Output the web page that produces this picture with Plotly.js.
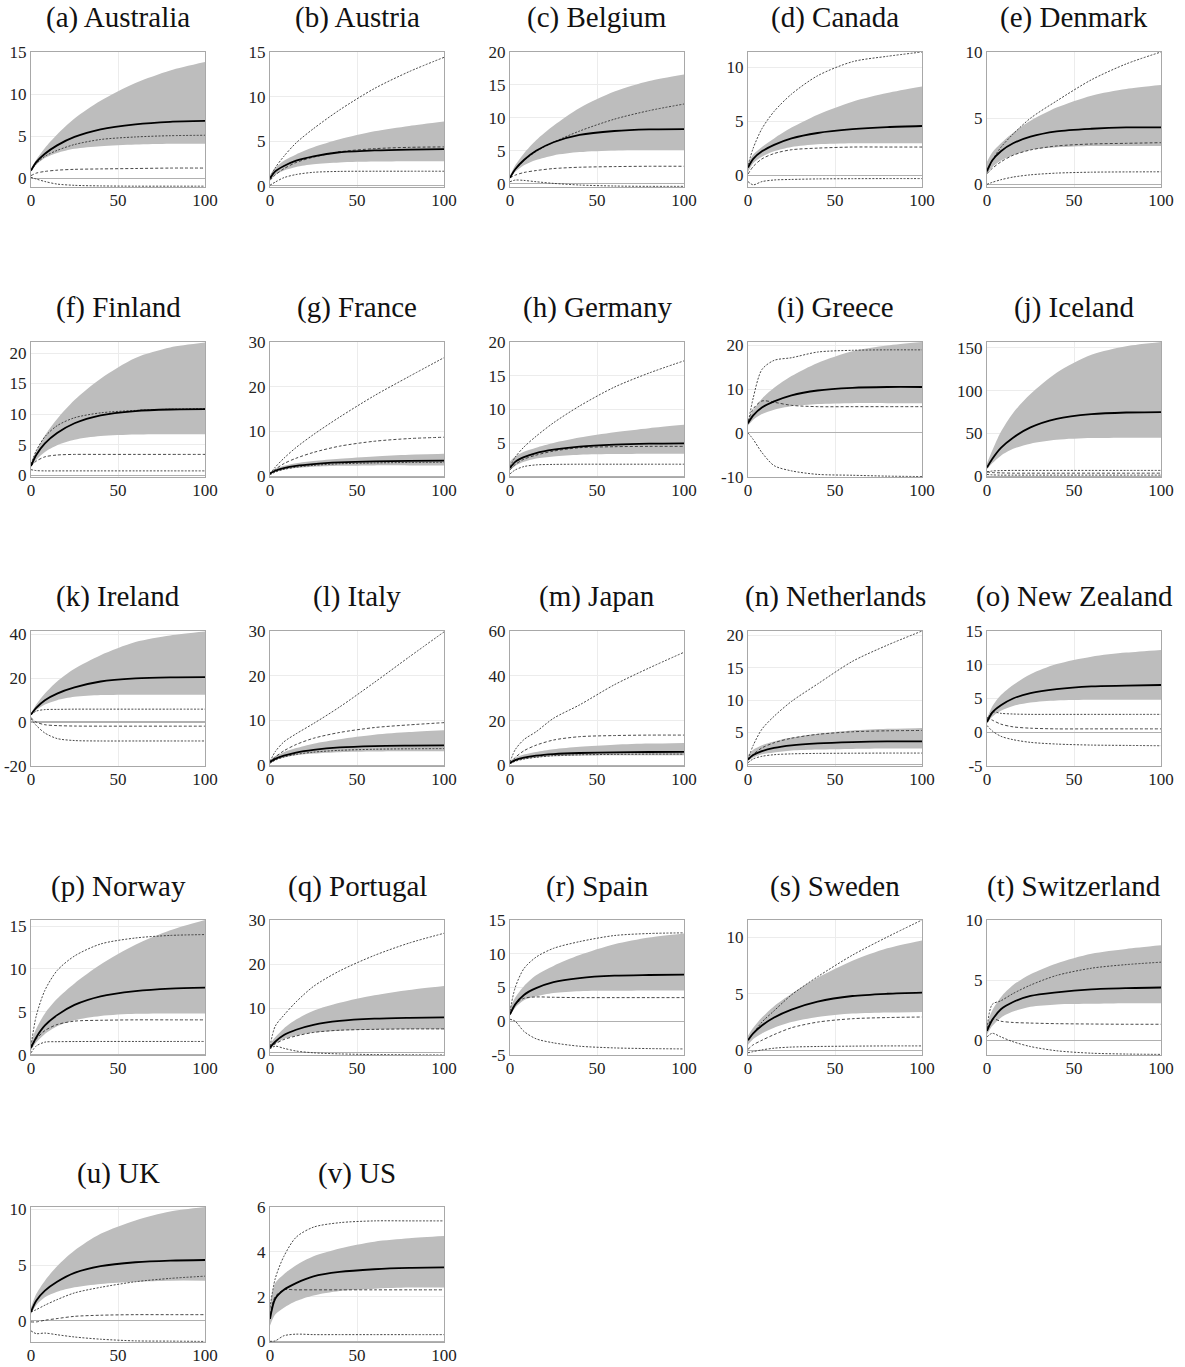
<!DOCTYPE html>
<html>
<head>
<meta charset="utf-8">
<script src="https://cdn.plot.ly/plotly-3.0.1.min.js"></script>
<style>html,body{margin:0;padding:0;background:#fff;}#chart{width:1185px;height:1367px;}</style>
</head>
<body>
<div id="chart"></div>
<script>
// Horizon (x) sample points
const X = [0, 3, 8, 15, 25, 40, 60, 80, 100];

const titles = ["(a) Australia","(b) Austria","(c) Belgium","(d) Canada","(e) Denmark",
  "(f) Finland","(g) France","(h) Germany","(i) Greece","(j) Iceland",
  "(k) Ireland","(l) Italy","(m) Japan","(n) Netherlands","(o) New Zealand",
  "(p) Norway","(q) Portugal","(r) Spain","(s) Sweden","(t) Switzerland",
  "(u) UK","(v) US"];

// y-axis ranges and tick steps per panel
const yMin = [-1.05,-0.15,-0.5,-1.1,-0.2, -0.3,-0.2,-0.05,-10.1,-1, -20,-0.2,-0.3,-0.2,-5, -0.05,-0.5,-5,-0.4,-1.2, -1.9,-0.03];
const yMax = [15,15,20,11.4,10, 21.8,30,20,20.8,157, 41.5,30,60,20.7,15, 15.7,30,15,11.5,10, 10.2,6];
const yStep = [5,5,5,5,5, 5,10,5,10,50, 20,10,20,5,5, 5,10,5,5,5, 5,2];

// shaded band lower edge
const bandLow = [
 [0.8,1.6,2.4,3.0,3.5,3.8,4.0,4.1,4.1],
 [0.6,1.2,1.7,2.1,2.4,2.6,2.7,2.75,2.75],
 [0.8,1.8,2.8,3.6,4.3,4.8,5.05,5.1,5.1],
 [0.3,1.1,1.7,2.2,2.6,2.85,2.95,2.95,2.95],
 [0.8,1.3,1.8,2.2,2.6,2.8,2.9,2.9,2.9],
 [1.3,2.5,3.8,4.9,5.8,6.4,6.65,6.7,6.7],
 [0.4,0.9,1.4,1.8,2.1,2.3,2.4,2.4,2.4],
 [1.0,1.6,2.2,2.7,3.0,3.25,3.35,3.4,3.4],
 [1.7,3.0,4.3,5.3,6.1,6.6,6.8,6.8,6.8],
 [8,15,24,32,38,42.5,44.5,45,45],
 [3.2,5.5,8.0,10.0,11.5,12.3,12.5,12.5,12.5],
 [0.5,1.1,1.7,2.2,2.6,2.9,3.05,3.1,3.1],
 [0.8,1.8,2.7,3.4,4.0,4.3,4.45,4.5,4.5],
 [0.6,1.1,1.6,1.9,2.2,2.35,2.45,2.5,2.5],
 [1.3,2.3,3.2,3.9,4.4,4.7,4.8,4.8,4.8],
 [0.5,1.4,2.4,3.3,4.0,4.5,4.75,4.8,4.8],
 [0.9,2.0,3.1,3.9,4.6,5.0,5.2,5.3,5.3],
 [0.8,2.0,3.1,3.7,4.2,4.45,4.5,4.55,4.55],
 [0.5,1.0,1.5,2.0,2.5,2.95,3.25,3.35,3.4],
 [0.5,1.2,1.9,2.4,2.8,3.0,3.05,3.1,3.1],
 [0.6,1.4,2.1,2.6,3.0,3.3,3.5,3.6,3.6],
 [0.7,1.2,1.5,1.8,2.05,2.25,2.35,2.4,2.4]
];

// shaded band upper edge
const bandHigh = [
 [1.0,2.2,3.6,5.2,7.1,9.2,11.3,12.8,13.8],
 [1.2,2.0,2.8,3.5,4.3,5.2,6.1,6.7,7.2],
 [1.2,2.8,4.6,6.6,8.8,11.5,14.0,15.6,16.6],
 [1.1,1.9,2.6,3.4,4.4,5.6,6.8,7.6,8.2],
 [1.7,2.4,3.1,3.9,4.8,5.8,6.7,7.2,7.5],
 [2.0,4.0,6.5,9.2,12.3,15.8,19.2,20.9,21.7],
 [0.9,1.6,2.3,2.9,3.4,3.9,4.4,4.8,5.0],
 [2.3,3.0,3.7,4.3,5.0,5.8,6.6,7.2,7.7],
 [3.0,5.2,7.8,10.3,13.0,16.0,18.7,20.0,20.8],
 [15,30,52,74,96,121,142,152,157],
 [4.0,8.0,13.0,18.5,24.3,30.5,36.5,39.5,41.3],
 [1.2,2.0,2.9,3.8,4.8,5.8,6.8,7.4,7.8],
 [2.0,3.3,4.8,6.0,7.2,8.3,9.2,9.7,10.0],
 [1.5,2.3,3.0,3.6,4.2,4.8,5.3,5.55,5.7],
 [2.0,3.8,5.5,7.0,8.6,10.1,11.2,11.8,12.2],
 [1.5,3.0,4.8,6.5,8.3,10.5,12.8,14.5,15.7],
 [2.0,3.5,5.5,7.5,9.5,11.3,13.0,14.2,15.1],
 [2.0,3.5,5.2,6.8,8.2,9.8,11.4,12.4,13.0],
 [1.3,2.0,2.9,3.9,5.0,6.4,7.9,9.0,9.7],
 [1.4,2.5,3.6,4.6,5.5,6.4,7.2,7.6,7.9],
 [1.2,2.4,3.6,4.9,6.3,7.8,9.0,9.8,10.2],
 [1.6,2.6,3.0,3.4,3.8,4.15,4.45,4.6,4.7]
];

// median (solid black)
const median = [
 [0.9,1.9,2.9,3.9,4.9,5.8,6.4,6.7,6.8],
 [0.8,1.6,2.2,2.8,3.3,3.75,3.95,4.05,4.1],
 [0.9,2.2,3.6,5.0,6.3,7.4,8.0,8.25,8.3],
 [0.7,1.5,2.2,2.8,3.4,3.9,4.25,4.45,4.55],
 [1.0,1.8,2.5,3.1,3.6,4.0,4.2,4.3,4.3],
 [1.5,3.3,5.2,6.9,8.5,9.8,10.5,10.75,10.8],
 [0.6,1.2,1.8,2.3,2.7,3.05,3.3,3.4,3.45],
 [1.3,2.2,2.9,3.5,4.0,4.45,4.75,4.9,4.95],
 [2.2,4.0,5.8,7.2,8.6,9.7,10.3,10.5,10.5],
 [10,20,33,45,57,67,72.5,74.5,75],
 [3.5,6.5,10.0,13.0,15.8,18.5,19.9,20.4,20.5],
 [0.7,1.4,2.1,2.8,3.4,3.95,4.25,4.35,4.4],
 [1.0,2.3,3.4,4.3,5.0,5.5,5.8,5.95,6.0],
 [0.8,1.5,2.1,2.6,3.0,3.3,3.5,3.6,3.6],
 [1.5,2.9,4.0,5.0,5.8,6.4,6.8,6.9,7.0],
 [0.8,2.0,3.4,4.6,5.8,6.8,7.4,7.7,7.8],
 [1.2,2.5,4.0,5.2,6.3,7.2,7.7,7.9,8.0],
 [1.0,2.5,3.9,4.9,5.8,6.4,6.75,6.85,6.9],
 [0.9,1.5,2.2,2.9,3.6,4.3,4.8,5.0,5.1],
 [0.8,1.7,2.6,3.2,3.7,4.0,4.25,4.35,4.4],
 [0.8,1.8,2.7,3.5,4.3,4.9,5.25,5.4,5.45],
 [1.0,1.9,2.3,2.6,2.9,3.1,3.22,3.28,3.3]
];

// upper dotted line
const dotUpper = [
 [0.9,1.7,2.6,3.3,4.0,4.6,4.9,5.05,5.1],
 [0.9,2.0,3.3,4.8,6.4,8.5,10.9,12.8,14.4],
 [0.9,2.1,3.5,4.9,6.3,8.0,9.8,11.1,12.1],
 [0.9,2.5,4.3,5.9,7.5,9.2,10.5,11.0,11.4],
 [0.9,1.8,2.8,3.8,5.0,6.3,7.9,9.1,10.0],
 [1.8,4.0,6.3,8.1,9.4,10.2,10.6,10.8,10.9],
 [0.5,2.0,4.0,6.4,9.3,13.2,18.0,22.3,26.5],
 [1.5,2.9,4.4,6.0,8.0,10.5,13.3,15.4,17.2],
 [2.0,8.0,14.5,16.6,17.2,18.5,18.9,19.0,19.0],
 [5,6,6.5,6.7,6.7,6.7,6.7,6.7,6.7],
 [3.3,5.0,5.7,5.8,5.9,5.9,5.9,5.9,5.9],
 [0.8,3.0,5.2,7.0,9.3,13.0,18.5,24.2,29.8],
 [1.5,7.0,11.5,15.0,21.0,27.0,36.0,43.5,50.5],
 [0.8,3.0,5.5,7.5,9.8,12.5,16.0,18.5,20.7],
 [1.8,3.0,2.8,2.7,2.65,2.65,2.65,2.65,2.65],
 [1.0,4.5,7.5,9.8,11.5,12.9,13.6,13.9,14.0],
 [1.5,6.0,8.5,11.5,15.0,18.5,22.0,24.8,27.0],
 [1.5,5.0,7.8,9.5,10.8,11.8,12.7,13.0,13.1],
 [0.9,1.5,2.5,3.5,4.9,6.5,8.4,10.0,11.5],
 [1.0,3.0,3.3,3.9,4.6,5.4,6.0,6.3,6.5],
 [0.8,1.0,1.4,1.9,2.5,3.0,3.5,3.8,4.0],
 [1.5,2.8,3.8,4.65,5.1,5.3,5.38,5.38,5.38]
];

// middle dashed line
const dashed = [
 [0.3,0.6,0.8,0.95,1.05,1.1,1.15,1.2,1.2],
 [0.6,1.2,1.9,2.6,3.2,3.8,4.15,4.3,4.35],
 [0.9,1.3,1.7,2.0,2.3,2.5,2.6,2.65,2.65],
 [0.1,0.8,1.5,2.0,2.35,2.5,2.6,2.6,2.6],
 [0.8,1.2,1.7,2.2,2.6,2.9,3.05,3.1,3.15],
 [1.5,2.3,3.0,3.3,3.4,3.4,3.4,3.4,3.4],
 [0.5,1.5,2.8,4.0,5.3,6.7,7.8,8.4,8.7],
 [1.0,1.8,2.6,3.2,3.8,4.3,4.45,4.5,4.5],
 [2.5,5.5,7.3,7.0,6.3,6.0,6.0,6.0,6.0],
 [5,4.2,3.8,3.5,3.5,3.5,3.5,3.5,3.5],
 [2.0,0.0,-1.2,-1.6,-1.8,-1.85,-1.85,-1.85,-1.85],
 [0.5,1.8,3.2,4.6,6.0,7.3,8.4,9.0,9.5],
 [1.0,3.5,6.5,9.0,11.3,12.8,13.3,13.5,13.5],
 [0.7,1.6,2.6,3.4,4.1,4.7,5.1,5.25,5.3],
 [2.2,1.8,1.2,0.8,0.6,0.5,0.5,0.5,0.5],
 [0.7,1.8,2.8,3.5,3.9,4.0,4.05,4.05,4.05],
 [1.0,2.0,3.0,3.8,4.6,5.1,5.3,5.4,5.4],
 [1.0,2.5,3.4,3.6,3.55,3.5,3.5,3.5,3.5],
 [0.1,0.5,0.9,1.4,2.0,2.5,2.8,2.9,2.95],
 [1.0,1.8,1.6,1.5,1.45,1.4,1.37,1.35,1.35],
 [-0.1,-0.1,0.05,0.2,0.4,0.5,0.55,0.55,0.55],
 [1.2,2.0,2.3,2.3,2.3,2.3,2.3,2.3,2.3]
];

// lower dotted line
const dotLower = [
 [0.1,-0.1,-0.4,-0.7,-0.85,-0.92,-0.95,-0.95,-0.95],
 [0.05,0.4,0.9,1.25,1.5,1.6,1.62,1.62,1.62],
 [0.3,0.55,0.5,0.3,0.05,-0.2,-0.35,-0.4,-0.4],
 [-0.6,-0.9,-0.6,-0.45,-0.4,-0.35,-0.33,-0.32,-0.32],
 [0.0,0.15,0.35,0.55,0.72,0.85,0.92,0.94,0.95],
 [0.9,0.75,0.7,0.7,0.7,0.7,0.7,0.7,0.7],
 [0.3,0.9,1.5,2.0,2.4,2.75,2.95,3.05,3.1],
 [0.4,1.0,1.5,1.75,1.82,1.85,1.85,1.85,1.85],
 [0,-1.5,-4.5,-7.5,-8.7,-9.5,-9.7,-9.9,-10.0],
 [2,1.5,1.2,1.2,1.2,1.2,1.2,1.2,1.2],
 [1.5,-1.5,-5.0,-7.5,-8.4,-8.6,-8.6,-8.6,-8.6],
 [0.4,1.1,1.8,2.4,2.9,3.3,3.55,3.65,3.7],
 [0.7,1.8,2.8,3.6,4.3,4.7,4.9,5.0,5.0],
 [0.3,0.9,1.3,1.55,1.68,1.75,1.78,1.8,1.8],
 [1.0,0.2,-0.6,-1.1,-1.5,-1.75,-1.9,-1.95,-2.0],
 [0.2,1.0,1.45,1.5,1.52,1.53,1.53,1.53,1.53],
 [0.9,1.5,1.0,0.4,0.0,-0.25,-0.4,-0.45,-0.5],
 [0.3,0.0,-1.5,-2.6,-3.2,-3.7,-3.95,-4.05,-4.1],
 [-0.2,-0.1,0.05,0.2,0.3,0.35,0.38,0.4,0.4],
 [0.3,0.6,0.3,-0.1,-0.5,-0.85,-1.05,-1.12,-1.15],
 [-0.9,-1.15,-1.1,-1.25,-1.45,-1.65,-1.8,-1.82,-1.85],
 [0.0,0.02,0.25,0.32,0.3,0.3,0.3,0.3,0.3]
];

const xTicks = [0, 50, 100];

// ---- layout geometry (pixels) ----
const W = 1185, H = 1367;
const colLeft = [31, 270, 510, 748, 987];
const rowTop = [52, 342, 631, 920, 1207];
const plotW = 174, plotH = 135;
const titleOffset = 34; // title center above plot top

const font = "'Liberation Serif', 'Times New Roman', 'DejaVu Serif', serif";
const traces = [];
const layout = {
  width: W, height: H,
  margin: {l: 0, r: 0, t: 0, b: 0},
  paper_bgcolor: "#fff", plot_bgcolor: "#fff",
  showlegend: false,
  font: {family: font, color: "#222"},
  annotations: []
};

titles.forEach((t, i) => {
  const r = Math.floor(i / 5), c = i % 5;
  const k = i === 0 ? "" : String(i + 1);
  const xa = "x" + k, ya = "y" + k;
  const line = (y, opts) => Object.assign({
    x: X, y: y, xaxis: xa, yaxis: ya, type: "scatter", mode: "lines",
    hoverinfo: "skip"
  }, opts);

  traces.push(line(bandLow[i], {line: {width: 0, shape: "spline", smoothing: 0.8}}));
  traces.push(line(bandHigh[i], {line: {width: 0, shape: "spline", smoothing: 0.8},
    fill: "tonexty", fillcolor: "#bdbdbd"}));
  traces.push(line(dotUpper[i], {line: {color: "#333", width: 0.9, dash: "2px,1.5px", shape: "spline", smoothing: 0.8}}));
  traces.push(line(dashed[i], {line: {color: "#333", width: 0.9, dash: "3px,2px", shape: "spline", smoothing: 0.8}}));
  traces.push(line(dotLower[i], {line: {color: "#333", width: 0.9, dash: "2px,1.5px", shape: "spline", smoothing: 0.8}}));
  traces.push(line(median[i], {line: {color: "#000", width: 1.8, shape: "spline", smoothing: 0.8}}));

  const x0 = colLeft[c] / W, x1 = (colLeft[c] + plotW) / W;
  const y1 = 1 - rowTop[r] / H, y0 = 1 - (rowTop[r] + plotH) / H;

  const tv = [];
  for (let v = Math.ceil(yMin[i] / yStep[i]) * yStep[i]; v <= yMax[i] + 1e-9; v += yStep[i]) tv.push(v);

  const axCommon = {
    showline: true, mirror: true, linecolor: "#a8a8a8", linewidth: 1,
    showgrid: true, gridcolor: "#ececec", gridwidth: 1,
    ticks: "", tickfont: {family: font, size: 17, color: "#222"},
    fixedrange: true
  };
  layout["xaxis" + k] = Object.assign({}, axCommon, {
    domain: [x0, x1], anchor: ya, range: [0, 100],
    tickvals: xTicks, ticktext: xTicks.map(String), zeroline: false,
    ticklabelstandoff: -2
  });
  layout["yaxis" + k] = Object.assign({}, axCommon, {
    domain: [y0, y1], anchor: xa, range: [yMin[i], yMax[i]],
    tickvals: tv, ticktext: tv.map(String),
    zeroline: true, zerolinecolor: "#b0b0b0", zerolinewidth: 1.2
  });
  layout.annotations.push({
    text: t, xref: "paper", yref: "paper",
    x: (x0 + x1) / 2, y: 1 - (rowTop[r] - titleOffset) / H,
    xanchor: "center", yanchor: "middle", showarrow: false,
    font: {family: font, size: 29, color: "#111"}
  });
});

Plotly.newPlot("chart", traces, layout, {displayModeBar: false, staticPlot: true});
</script>
</body>
</html>
